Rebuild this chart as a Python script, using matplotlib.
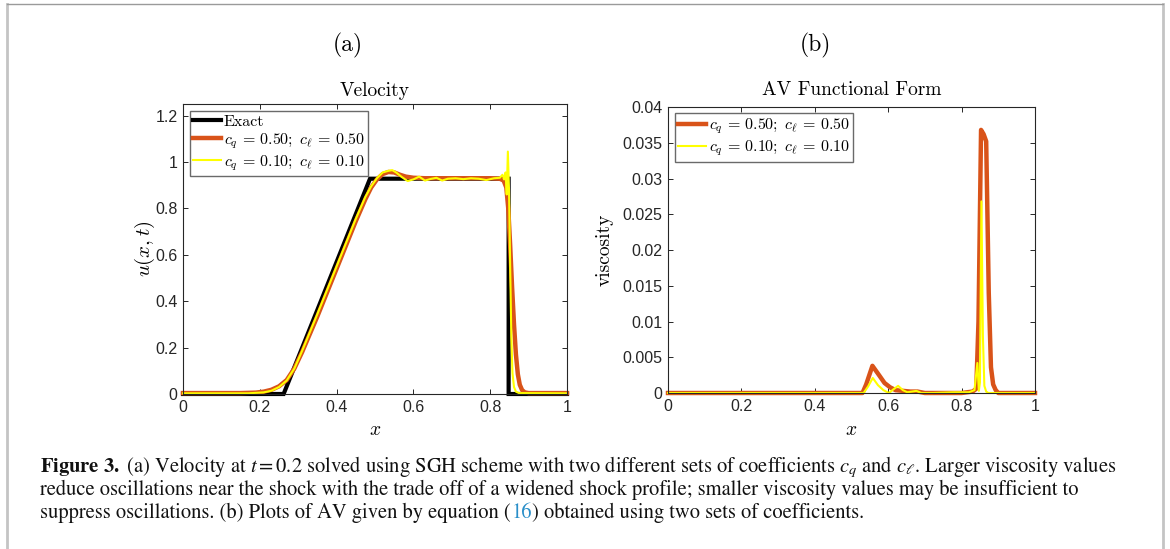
import matplotlib
matplotlib.use("Agg")
import matplotlib.pyplot as plt
from matplotlib.ticker import FuncFormatter
from matplotlib.lines import Line2D

# ---------------- data ----------------
exact_x = [0.0, 0.262, 0.487, 0.848, 0.848, 1.0]
exact_u = [0.0, 0.0, 0.928, 0.928, 0.0, 0.0]

vel_x_050 = [0, 0.15, 0.19, 0.21, 0.23, 0.25, 0.27, 0.29, 0.31, 0.35,
             0.40, 0.45, 0.475, 0.49, 0.505, 0.52, 0.535, 0.55, 0.565, 0.58,
             0.60, 0.63, 0.66, 0.70, 0.75, 0.80, 0.825, 0.835, 0.842, 0.847,
             0.852, 0.857, 0.862, 0.867, 0.872, 0.877, 0.883, 0.89, 0.90, 1.0]
vel_u_050 = [0.004, 0.004, 0.006, 0.010, 0.018, 0.033, 0.06, 0.11, 0.18, 0.335,
             0.54, 0.745, 0.84, 0.89, 0.925, 0.948, 0.957, 0.955, 0.945, 0.937,
             0.932, 0.93, 0.93, 0.93, 0.93, 0.93, 0.928, 0.92, 0.89, 0.80,
             0.64, 0.46, 0.3, 0.17, 0.085, 0.04, 0.017, 0.007, 0.004, 0.004]

vel_x_010 = [0, 0.17, 0.21, 0.23, 0.25, 0.27, 0.29, 0.31, 0.35, 0.40,
             0.45, 0.475, 0.49, 0.505, 0.52, 0.535, 0.545, 0.555, 0.57, 0.585,
             0.60, 0.615, 0.63, 0.645, 0.66, 0.675, 0.69, 0.71, 0.73, 0.75,
             0.77, 0.79, 0.81, 0.825, 0.832, 0.836, 0.84, 0.843, 0.846, 0.849,
             0.852, 0.855, 0.858, 0.862, 0.867, 0.875, 1.0]
vel_u_010 = [0.003, 0.003, 0.007, 0.014, 0.03, 0.058, 0.11, 0.185, 0.345, 0.55,
             0.755, 0.85, 0.895, 0.93, 0.955, 0.962, 0.965, 0.955, 0.935, 0.918,
             0.925, 0.937, 0.92, 0.927, 0.932, 0.92, 0.928, 0.93, 0.926, 0.93,
             0.928, 0.922, 0.93, 0.932, 0.945, 0.925, 0.955, 0.86, 1.045, 0.88,
             0.55, 0.25, 0.09, 0.03, 0.01, 0.004, 0.003]

visc_x_050 = [0, 0.53, 0.54, 0.557, 0.575, 0.59, 0.605, 0.62, 0.64, 0.66,
              0.68, 0.70, 0.75, 0.80, 0.83, 0.84, 0.846, 0.853, 0.86, 0.867,
              0.874, 0.88, 0.886, 0.893, 0.90, 1.0]
visc_050 = [0, 0, 0.0012, 0.0038, 0.0025, 0.0014, 0.0008, 0.0004, 0.0003, 0.0002,
            0.0002, 0.0, 0.0, 0.0, 0.0002, 0.0006, 0.010, 0.0368, 0.0362, 0.0352,
            0.014, 0.0036, 0.0012, 0.0004, 0.0, 0.0]

visc_x_010 = [0, 0.533, 0.545, 0.558, 0.572, 0.587, 0.602, 0.614, 0.627, 0.64,
              0.652, 0.665, 0.677, 0.69, 0.72, 0.78, 0.82, 0.835, 0.843, 0.847,
              0.850, 0.854, 0.858, 0.862, 0.867, 0.873, 1.0]
visc_010 = [0, 0, 0.0009, 0.0021, 0.0011, 0.0004, 0.0, 0.0005, 0.001, 0.0004,
            0.0001, 0.0002, 0.0003, 0.0, 0.0, 0.0001, 0.0001, 0.0004, 0.0042, 0.0003,
            0.0015, 0.0268, 0.008, 0.001, 0.0002, 0.0, 0.0]

labels = ["Exact", r"$c_q\, =\, 0.50;\ c_\ell\, =\, 0.50$",
          r"$c_q\, =\, 0.10;\ c_\ell\, =\, 0.10$"]
vel_ticks = [0, 0.2, 0.4, 0.6, 0.8, 1.0, 1.2]
visc_ticks = [0, 0.005, 0.01, 0.015, 0.02, 0.025, 0.03, 0.035, 0.04]
x_ticks = [0, 0.2, 0.4, 0.6, 0.8, 1.0]

# ---------------- style ----------------
plt.rcParams["font.family"] = ["Liberation Sans", "DejaVu Sans"]
plt.rcParams["mathtext.fontset"] = "cm"
plt.rcParams["axes.unicode_minus"] = False

BLACK = "#000000"
ORANGE = "#D95319"
YELLOW = "#FFFF00"
AXC = "#262626"
CM = "cmr10"

W, H = 1170, 549
fig = plt.figure(figsize=(W / 100, H / 100), dpi=100)


def px_rect(l, t, r, b):
    return [l / W, 1 - b / H, (r - l) / W, (b - t) / H]


axA = fig.add_axes(px_rect(183, 104, 567, 394))
axB = fig.add_axes(px_rect(668, 107, 1035, 393))

fmt = FuncFormatter(lambda v, p: "%g" % round(v, 6))
for ax in (axA, axB):
    ax.set_xlim(0, 1)
    ax.set_xticks(x_ticks)
    ax.xaxis.set_major_formatter(fmt)
    ax.yaxis.set_major_formatter(fmt)
    ax.tick_params(direction="in", top=True, right=True, length=3.5, width=0.7,
                   color=AXC, labelcolor=AXC, labelsize=11.5, pad=4)
    for s in ax.spines.values():
        s.set_color(AXC)
        s.set_linewidth(0.8)

# --- panel (a) ---
axA.plot(exact_x, exact_u, color=BLACK, lw=3.0, label=labels[0], clip_on=False,
         solid_joinstyle="miter")
axA.plot(vel_x_050, vel_u_050, color=ORANGE, lw=3.2, label=labels[1], clip_on=False)
axA.plot(vel_x_010, vel_u_010, color=YELLOW, lw=1.5, label=labels[2], clip_on=False)
axA.set_ylim(0, 1.25)
axA.set_yticks(vel_ticks)
axA.set_title("Velocity", family=CM, fontsize=14, color="black", pad=0,
              y=1.045, va="center")
axA.set_xlabel(r"$x$", fontsize=14)
axA.xaxis.set_label_coords(0.5, -0.095)
axA.set_ylabel(r"$u(x,t)$", fontsize=15)
axA.yaxis.set_label_coords(-0.099, 0.5)
axA.yaxis.label.set_va("center")

leg_kw = dict(loc="upper left", borderaxespad=0,
              prop={"family": CM, "size": 11.5}, handlelength=1.75,
              handletextpad=0.15, labelspacing=0.15, borderpad=0.22,
              fancybox=False, framealpha=1, edgecolor="#6a6a6a")
legA = axA.legend(bbox_to_anchor=(0.018, 0.976), **leg_kw)
legA.get_frame().set_linewidth(1.0)

# --- panel (b) ---
axB.plot(visc_x_050, visc_050, color=ORANGE, lw=3.2, label=labels[1], clip_on=False)
axB.plot(visc_x_010, visc_010, color=YELLOW, lw=1.5, label=labels[2], clip_on=False)
axB.set_ylim(0, 0.04)
axB.set_yticks(visc_ticks)
axB.set_title("AV Functional Form", family=CM, fontsize=14, color="black", pad=0,
              y=1.058, va="center")
axB.set_xlabel(r"$x$", fontsize=14)
axB.xaxis.set_label_coords(0.5, -0.1)
axB.set_ylabel("viscosity", family=CM, fontsize=14)
axB.yaxis.set_label_coords(-0.172, 0.5)
axB.yaxis.label.set_va("center")

legB = axB.legend(bbox_to_anchor=(0.019, 0.979), **leg_kw)
legB.get_frame().set_linewidth(1.0)

# panel tags
fig.text(348 / W, 1 - 45 / H, "(a)", family=CM, fontsize=17, ha="center", va="center")
fig.text(815 / W, 1 - 45 / H, "(b)", family=CM, fontsize=17, ha="center", va="center")

# ---------------- caption ----------------
cap_kw = dict(family="STIXGeneral", math_fontfamily="stix", fontsize=12.0,
              ha="left", va="baseline", color="#111111")
line1 = (r"$\mathbf{Figure\ 3.}$ (a) Velocity at $t = 0.2$ solved using SGH scheme "
         r"with two different sets of coefficients $c_q$ and $c_\ell$. Larger viscosity values")
line2 = ("reduce oscillations near the shock with the trade off of a widened shock profile; "
         "smaller viscosity values may be insufficient to")
line3a = "suppress oscillations. (b) Plots of AV given by equation ("
line3b = "16"
line3c = ") obtained using two sets of coefficients."

x0 = 40 / W
t1 = fig.text(x0, 1 - 472 / H, line1, **cap_kw)
t2 = fig.text(x0, 1 - 495 / H, line2, **cap_kw)
t3a = fig.text(x0, 1 - 518 / H, line3a, **cap_kw)
t3b = fig.text(x0, 1 - 518 / H, line3b, **{**cap_kw, "color": "#2a8fc9"})
t3c = fig.text(x0, 1 - 518 / H, line3c, **cap_kw)

fig.canvas.draw()
r = fig.canvas.get_renderer()
w1 = t1.get_window_extent(r).width
scale = 1077.0 / w1
for t in (t1, t2, t3a, t3b, t3c):
    t.set_fontsize(cap_kw["fontsize"] * scale)
fig.canvas.draw()
r = fig.canvas.get_renderer()
e = t3a.get_window_extent(r)
t3b.set_x(e.x1 / W + 0.5 / W)
fig.canvas.draw()
e = t3b.get_window_extent(r)
t3c.set_x(e.x1 / W + 0.5 / W)

# ---------------- frame ----------------
fig.add_artist(Line2D([7 / W, 7 / W], [0, 1 - 4 / H], color="#c4c4c4", lw=2.0,
                      transform=fig.transFigure))
fig.add_artist(Line2D([1163 / W, 1163 / W], [0, 1 - 4 / H], color="#c4c4c4", lw=2.0,
                      transform=fig.transFigure))
fig.add_artist(Line2D([7 / W, 1163 / W], [1 - 4 / H, 1 - 4 / H], color="#9a9a9a", lw=1.0,
                      transform=fig.transFigure))

fig.savefig("out.png", dpi=100)
